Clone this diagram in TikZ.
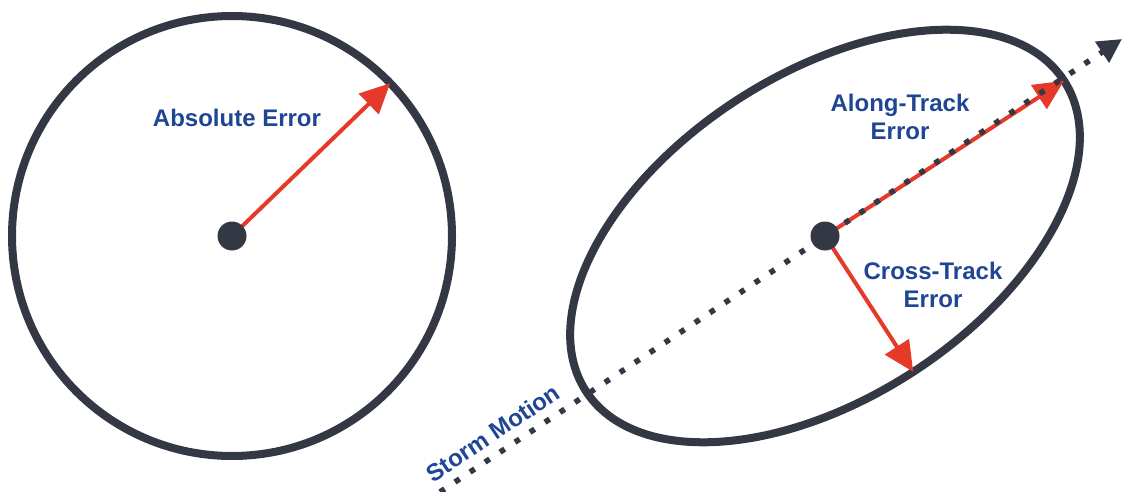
\documentclass[tikz,border=0pt]{standalone}
\usepackage{fontspec}
\setmainfont{Liberation Sans}
\usetikzlibrary{arrows.meta,shapes.geometric}
\definecolor{slate}{HTML}{343844}
\definecolor{errred}{HTML}{E5392A}
\definecolor{labblue}{HTML}{1F4694}

\begin{document}
\begin{tikzpicture}[
  x=0.5pt, y=-0.5pt,
  font=\fontsize{12}{14}\selectfont\bfseries,
  bound/.style={draw=slate, line width=4pt, outer sep=0pt, inner sep=0pt},
  hub/.style={circle, fill=slate, minimum size=14.5pt, inner sep=0pt},
  lab/.style={text=labblue, align=center},
  ar/.style={draw=errred, line width=2pt, -{Triangle[length=15pt, width=14pt]}},
  track/.style={draw=slate, line width=2.8pt, dash pattern=on 2.8pt off 6.2pt,
    -{Triangle[length=12pt, width=12pt]}}
]
\useasboundingbox (0,0) rectangle (1124,492);
\coordinate (c1) at (232,236);
\coordinate (c2) at (825,236);
\node[bound, circle, minimum size=220pt] (abs) at (c1) {};
\node[bound, ellipse, minimum width=285pt, minimum height=162pt, rotate=33] (cone) at (c2) {};
\coordinate (tail) at (440,492);
\coordinate (head) at (1122,39);
\draw[ar] (c1) -- (abs.44);
\draw[ar] (c2) -- (cone.east);
\draw[ar] (c2) -- (cone.south);
\draw[track] (tail) -- (head);
\node[hub] (hub1) at (c1) {};
\node[hub] (hub2) at (c2) {};
\node[lab] (abslab) at (237,118) {Absolute Error};
\node[lab] (alonglab) at (900,117) {Along-Track\\Error};
\node[lab] (crosslab) at (933,285) {Cross-Track\\Error};
\node[lab, rotate=34] (motionlab) at (493,433) {Storm Motion};
\end{tikzpicture}
\end{document}
